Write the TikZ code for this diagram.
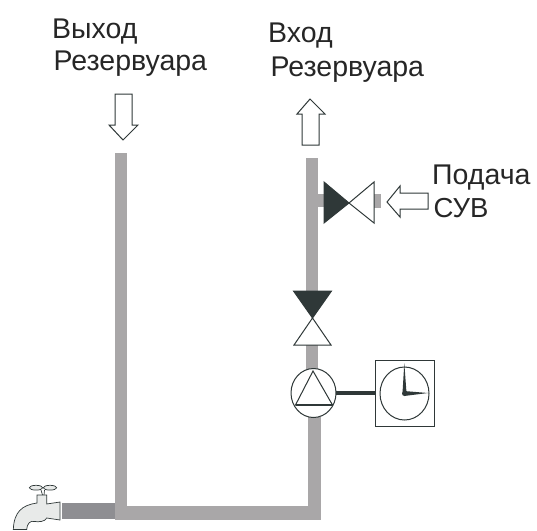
\documentclass[tikz,border=0pt]{standalone}
\usepackage{fontspec}
\setmainfont{Liberation Sans}
\usetikzlibrary{calc,shapes.geometric,backgrounds}
\definecolor{pipegray}{HTML}{A9A7A8}
\definecolor{feedgray}{HTML}{8E8E92}
\definecolor{darkline}{HTML}{2F3838}
\definecolor{tapfill}{HTML}{E8EAE9}
\tikzset{
  label/.style={anchor=base west,inner sep=0pt,text=black!85,font=\fontsize{28.5}{28.5}\selectfont},
  pipe/.style={fill=pipegray,draw=none},
  hollow/.style={draw=darkline,fill=white,line width=1pt,line join=miter},
  solid valve/.style={draw=darkline,fill=darkline,line width=1pt},
}
\begin{document}
\begin{tikzpicture}[x=1pt,y=-1pt]
\useasboundingbox (0,0) rectangle (537,530);

% pipes
\fill[feedgray] (62,503) rectangle (115,519);
\fill[pipe] (115,153) rectangle (127,520);
\fill[pipe] (115,506) rectangle (321,520);
\fill[pipe] (308,417) rectangle (321,520);
\fill[pipe] (306,345) rectangle (318,370);
\fill[pipe] (306,158) rectangle (318,291);
\fill[pipe] (318,194) rectangle (325,207);
\fill[pipe] (374,194) rectangle (381,208);

% valves
\coordinate (sidevalve) at (349,203);
\draw[solid valve] (sidevalve) -- ($ (sidevalve)+(-25,-21) $) -- ($ (sidevalve)+(-25,20) $) -- cycle;
\draw[hollow] (sidevalve) -- ($ (sidevalve)+(25,-21) $) -- ($ (sidevalve)+(25,20) $) -- cycle;

\coordinate (mainvalve) at (312.5,318);
\draw[solid valve] (mainvalve) -- ($ (mainvalve)+(-19,-27) $) -- ($ (mainvalve)+(19,-27) $) -- cycle;
\draw[hollow] (mainvalve) -- ($ (mainvalve)+(-18.5,27) $) -- ($ (mainvalve)+(18.5,27) $) -- cycle;

% pump and timer
\node[ellipse,draw=darkline,fill=white,line width=1pt,minimum width=45pt,minimum height=49pt,inner sep=0pt] (pump) at (313.5,393) {};
\node[rectangle,draw=darkline,fill=white,line width=1pt,minimum width=59pt,minimum height=66pt,inner sep=0pt] (timer) at (404.5,393) {};
\begin{scope}[on background layer]
\draw[darkline,line width=4pt] (pump.center) -- (timer.center);
\end{scope}
\draw[hollow] (313,371) -- (295.5,405) -- (332.5,405) -- cycle;
\draw[darkline,line width=1.6pt] (295.5,405) -- (332.5,405);
\draw[darkline,line width=1pt] (404.5,393.5) ellipse (24.5 and 26.5);
\fill[darkline] (402.5,393) -- (404.3,363) -- (406.5,393) -- cycle;
\fill[darkline] (404,391) -- (428,393) -- (404,396) -- cycle;
\fill[darkline] (404.5,393.5) circle (2.5);

% arrows
\draw[hollow] (115,94) -- (132,94) -- (132,125) -- (138,125) -- (123,140) -- (109,125) -- (115,125) -- cycle;
\draw[hollow] (302,145) -- (319,145) -- (319,114) -- (325,114) -- (310,99) -- (297,114) -- (302,114) -- cycle;
\draw[hollow] (428,193) -- (400,193) -- (400,186) -- (387,202) -- (400,217) -- (400,209) -- (428,209) -- cycle;

% tap
\draw[darkline,line width=.7pt,fill=tapfill] (13.3,529.5) .. controls (14,512) and (22,505) .. (37,503) -- (37,495) -- (46.7,495) -- (46.7,504) -- (60,502) -- (60,520) -- (46.7,518) .. controls (45,522) and (38,522) .. (35,521.5) .. controls (30,520) and (27,524) .. (26.7,529.5) -- cycle;
\draw[darkline,line width=.7pt,fill=tapfill] (36,487.7) ellipse (6.7 and 2.4);
\draw[darkline,line width=.7pt,fill=tapfill] (50,487.7) ellipse (6.7 and 2.4);
\draw[darkline,line width=.7pt] (41,490) -- (42.5,495) (44.5,490) -- (44,495);

% labels
\node[label] (outname) at (52,38) {Выход};
\node[label] (outtank) at (53.5,70) {Резервуара};
\node[label] (inname) at (268,42) {Вход};
\node[label] (intank) at (270.5,76) {Резервуара};
\node[label] (feedname) at (432,184) {Подача};
\node[label,font=\fontsize{27.5}{27.5}\selectfont] (feedgas) at (433.5,217) {СУВ};
\end{tikzpicture}
\end{document}
